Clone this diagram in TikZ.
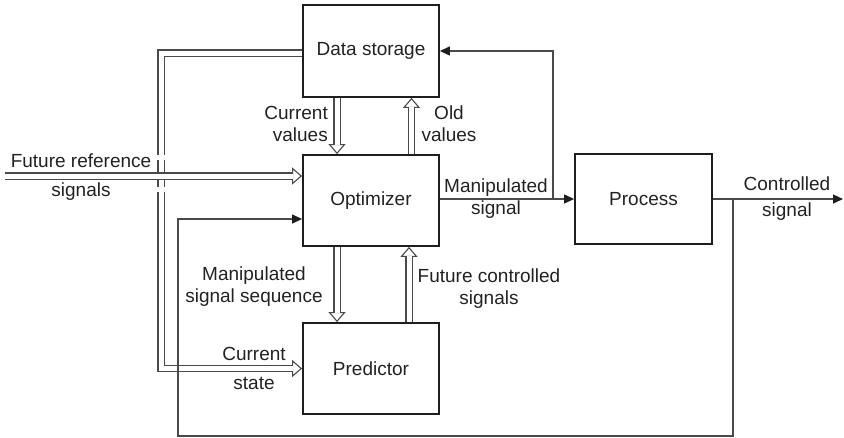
\documentclass[tikz,border=0pt]{standalone}
\usepackage{fontspec}
\setmainfont{Liberation Sans}
\usetikzlibrary{arrows.meta,calc}
\definecolor{boxcol}{HTML}{1E1E1E}
\definecolor{linecol}{HTML}{4A4A4A}
\definecolor{txtcol}{HTML}{222222}
\tikzset{
  box/.style={draw=boxcol, line width=1.8pt, minimum width=136pt, inner sep=0pt, text=txtcol, font=\fontsize{19}{22}\selectfont},
  lbl/.style={inner sep=0pt, text=txtcol, font=\fontsize{19}{22}\selectfont},
  dbl/.style={draw=linecol, line width=1.1pt, double=white, double distance=5pt},
  hhead/.style={draw=linecol, line width=1.1pt, -{Triangle[open, length=10pt, width=17pt]}},
  thinline/.style={draw=linecol, line width=1.2pt},
  fa/.style={-{Triangle[length=10pt, width=9pt, color=boxcol]}},
}
\newcommand{\hollowarr}[2]{%
  \draw[hhead] ($(#2)!10pt!(#1)$) -- (#2);
  \draw[dbl] (#1) -- ($(#2)!9pt!(#1)$);
}
\begin{document}
\begin{tikzpicture}[x=1pt, y=-1pt]
\useasboundingbox (0,0) rectangle (844,437);
% boxes
\node[box, minimum height=92pt] (ds) at (371,51) {Data storage};
\node[box, minimum height=91pt] (opt) at (371,200.5) {Optimizer};
\node[box, minimum height=91pt] (pred) at (371,368.5) {Predictor};
\node[box, minimum width=137pt, minimum height=90pt] (proc) at (643.5,199) {Process};

% current state double line (L-shaped)
\coordinate (cs0) at (ds.west |- 0,53);
\coordinate (cs1) at (161,53);
\coordinate (cs2) at (161,368.5);
\draw[hhead] ($(pred.west)!10pt!(cs2)$) -- (pred.west);
\draw[dbl] (cs0) -- (cs1) -- (cs2) -- ($(pred.west)!9pt!(cs2)$);
% small line-jump gaps
\fill[white] (155,155) rectangle (167,160);
\fill[white] (155,187) rectangle (167,192);

% future reference
\coordinate (fr0) at (5,176);
\coordinate (fr1) at (opt.west |- 0,176);
\hollowarr{fr0}{fr1}

% current values / old values
\coordinate (cv0) at ($(ds.south)+(-34,0)$);
\coordinate (cv1) at ($(opt.north)+(-34,0)$);
\hollowarr{cv0}{cv1}
\coordinate (ov0) at ($(opt.north)+(40.5,0)$);
\coordinate (ov1) at ($(ds.south)+(40.5,0)$);
\hollowarr{ov0}{ov1}

% manipulated signal sequence / future controlled signals
\coordinate (ms0) at ($(opt.south)+(-34,0)$);
\coordinate (ms1) at ($(pred.north)+(-34,0)$);
\hollowarr{ms0}{ms1}
\coordinate (fc0) at ($(pred.north)+(38,0)$);
\coordinate (fc1) at ($(opt.south)+(38,0)$);
\hollowarr{fc0}{fc1}

% thin signal lines
\coordinate (mo) at (opt.east |- proc.west);
\draw[thinline, fa] (mo) -- (proc.west);
\coordinate (br) at (553,199);
\draw[thinline, fa] (br) |- (ds.east);
\coordinate (out) at (843,199);
\draw[thinline, fa] (proc.east) -- (out);
\coordinate (fb0) at (733,199);
\coordinate (fb1) at (733,436);
\coordinate (fb2) at (178,436);
\coordinate (fb3) at (178,219);
\coordinate (fb4) at (opt.west |- 0,219);
\draw[thinline, fa] (fb0) -- (fb1) -- (fb2) -- (fb3) -- (fb4);

% labels
\node[lbl, align=right, anchor=east] (lcv) at (328,124) {Current\\values};
\node[lbl, align=center] (lov) at (449,124) {Old\\values};
\node[lbl, align=center] (lfr) at (81,177) {Future reference\\[7pt]signals};
\node[lbl, align=center] (lms) at (496,199) {Manipulated\\signal};
\node[lbl, align=center] (lcs) at (787,198.5) {Controlled\\[4pt]signal};
\node[lbl, align=center] (lmss) at (254,286.5) {Manipulated\\signal sequence};
\node[lbl, align=center] (lfcs) at (489,289) {Future controlled\\signals};
\node[lbl, align=center] (lcst) at (254,368) {Current\\[7pt]state};
\end{tikzpicture}
\end{document}
